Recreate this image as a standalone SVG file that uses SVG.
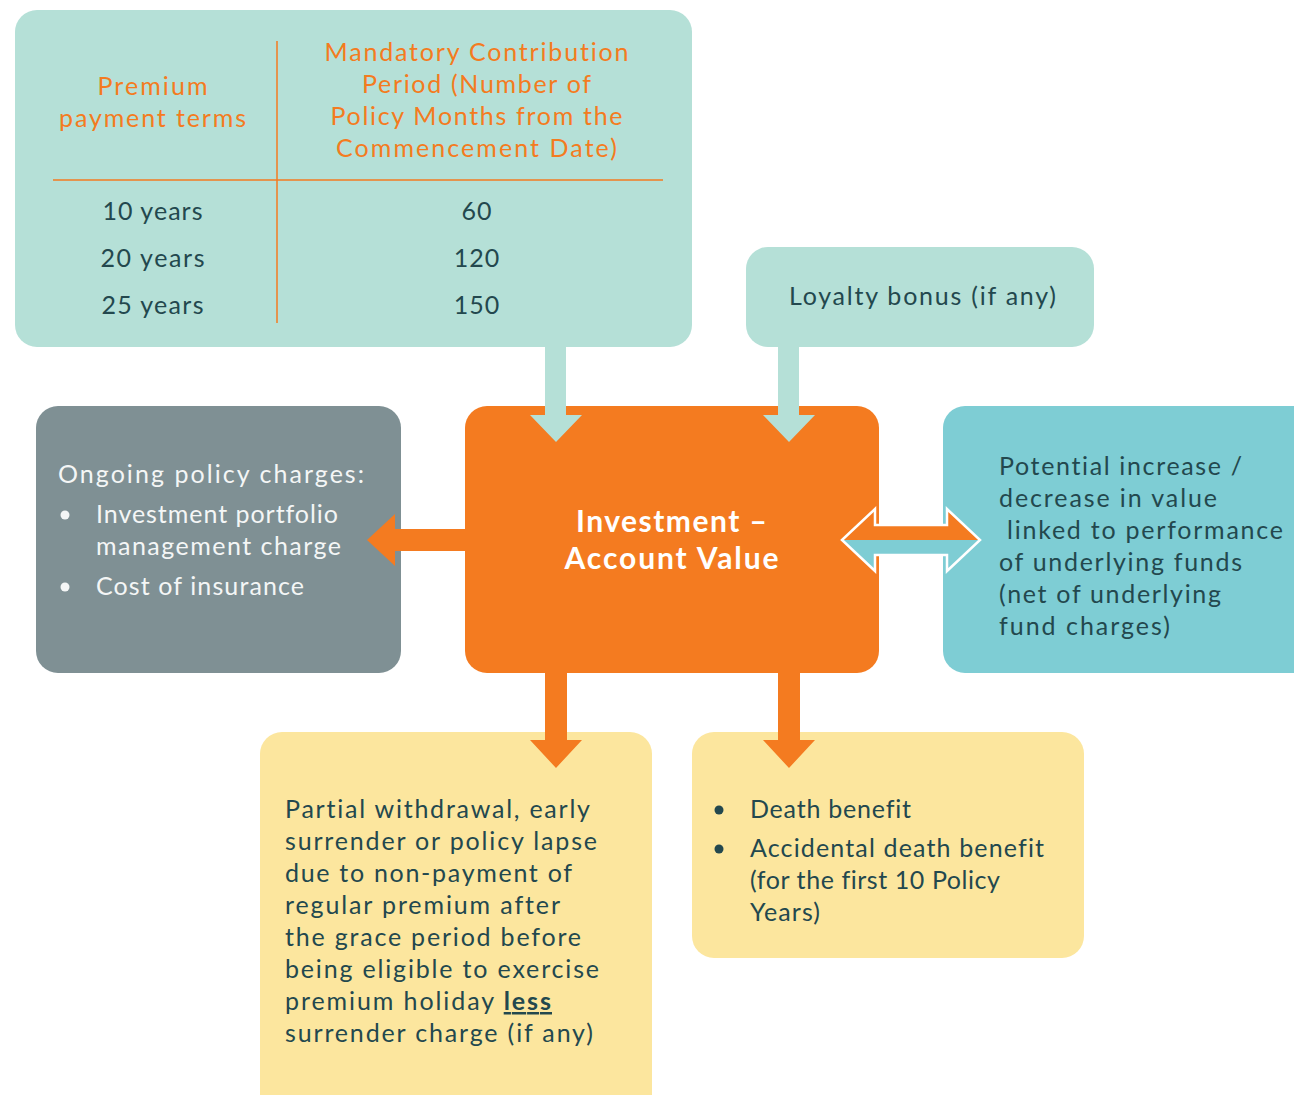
<svg xmlns="http://www.w3.org/2000/svg" width="1294" height="1095" viewBox="0 0 1294 1095">
<style>
.t{font-family:Lato,"Open Sans","Liberation Sans",sans-serif;font-size:25px;letter-spacing:1px;fill:#23484e}
.o{fill:#f47b20}
.w{fill:#f4f6f6}
.c{text-anchor:middle}
.b{font-weight:bold}
.h{font-size:30px;fill:#ffffff;font-weight:bold}
.grid{stroke:#f47b20;stroke-width:1.5;fill:none}
</style>
<defs>
<clipPath id="topHalf"><rect x="830" y="490" width="170" height="50"/></clipPath>
</defs>
<rect width="1294" height="1095" fill="#ffffff"/>

<g id="table-box">
<rect x="15" y="10" width="677" height="337" rx="22" fill="#b5e0d7"/>
<line class="grid" x1="277" y1="41" x2="277" y2="323"/>
<line class="grid" x1="53" y1="180" x2="663" y2="180"/>
<text class="t o c" x="153" y="95" textLength="111" lengthAdjust="spacing">Premium</text>
<text class="t o c" x="153" y="127" textLength="188" lengthAdjust="spacing">payment terms</text>
<text class="t o c" x="477" y="61" textLength="305" lengthAdjust="spacing">Mandatory Contribution</text>
<text class="t o c" x="477" y="93" textLength="230" lengthAdjust="spacing">Period (Number of</text>
<text class="t o c" x="477" y="125" textLength="293" lengthAdjust="spacing">Policy Months from the</text>
<text class="t o c" x="477" y="157" textLength="282" lengthAdjust="spacing">Commencement Date)</text>
<text class="t c" x="153" y="220" textLength="101" lengthAdjust="spacing">10 years</text>
<text class="t c" x="153" y="267" textLength="105" lengthAdjust="spacing">20 years</text>
<text class="t c" x="153" y="314" textLength="103" lengthAdjust="spacing">25 years</text>
<text class="t c" x="477" y="220">60</text>
<text class="t c" x="477" y="267">120</text>
<text class="t c" x="477" y="314">150</text>
</g>

<g id="loyalty">
<rect x="746" y="247" width="348" height="100" rx="22" fill="#b5e0d7"/>
<text class="t c" x="923" y="305" textLength="268" lengthAdjust="spacing">Loyalty bonus (if any)</text>
</g>

<g id="charges">
<rect x="36" y="406" width="365" height="267" rx="22" fill="#7f9094"/>
<text class="t w" x="58" y="483" textLength="307" lengthAdjust="spacing">Ongoing policy charges:</text>
<circle cx="65" cy="515" r="4.5" fill="#f4f6f6"/>
<text class="t w" x="96" y="523" textLength="243" lengthAdjust="spacing">Investment portfolio</text>
<text class="t w" x="96" y="555" textLength="246" lengthAdjust="spacing">management charge</text>
<circle cx="65" cy="587" r="4.5" fill="#f4f6f6"/>
<text class="t w" x="96" y="595" textLength="209" lengthAdjust="spacing">Cost of insurance</text>
</g>

<g id="performance">
<rect x="943" y="406" width="380" height="267" rx="22" fill="#7ecdd4"/>
<text class="t" x="999" y="475" textLength="244" lengthAdjust="spacing">Potential increase /</text>
<text class="t" x="999" y="507" textLength="219" lengthAdjust="spacing">decrease in value</text>
<text class="t" x="1007" y="539" textLength="277" lengthAdjust="spacing">linked to performance</text>
<text class="t" x="999" y="571" textLength="244" lengthAdjust="spacing">of underlying funds</text>
<text class="t" x="999" y="603" textLength="223" lengthAdjust="spacing">(net of underlying</text>
<text class="t" x="999" y="635" textLength="172" lengthAdjust="spacing">fund charges)</text>
</g>

<g id="withdrawal">
<rect x="260" y="732" width="392" height="390" rx="22" fill="#fce69e"/>
<text class="t" x="285" y="818" textLength="306" lengthAdjust="spacing">Partial withdrawal, early</text>
<text class="t" x="285" y="850" textLength="313" lengthAdjust="spacing">surrender or policy lapse</text>
<text class="t" x="285" y="882" textLength="288" lengthAdjust="spacing">due to non-payment of</text>
<text class="t" x="285" y="914" textLength="276" lengthAdjust="spacing">regular premium after</text>
<text class="t" x="285" y="946" textLength="297" lengthAdjust="spacing">the grace period before</text>
<text class="t" x="285" y="978" textLength="315" lengthAdjust="spacing">being eligible to exercise</text>
<text class="t" x="285" y="1010" textLength="267" lengthAdjust="spacing">premium holiday <tspan class="b" text-decoration="underline">less</tspan></text>
<text class="t" x="285" y="1042" textLength="309" lengthAdjust="spacing">surrender charge (if any)</text>
</g>

<g id="death">
<rect x="692" y="732" width="392" height="226" rx="22" fill="#fce69e"/>
<circle cx="719" cy="810" r="4.5" fill="#23484e"/>
<text class="t" x="750" y="818" textLength="162" lengthAdjust="spacing">Death benefit</text>
<circle cx="719" cy="849" r="4.5" fill="#23484e"/>
<text class="t" x="750" y="857" textLength="295" lengthAdjust="spacing">Accidental death benefit</text>
<text class="t" x="750" y="889" textLength="251" lengthAdjust="spacing">(for the first 10 Policy</text>
<text class="t" x="750" y="921" textLength="71" lengthAdjust="spacing">Years)</text>
</g>

<g id="account">
<rect x="465" y="406" width="414" height="267" rx="22" fill="#f47b20"/>
<text class="t c h" x="672" y="532" textLength="192" lengthAdjust="spacing">Investment –</text>
<text class="t c h" x="672" y="569" textLength="215" lengthAdjust="spacing">Account Value</text>
</g>

<g id="connectors">
<polygon points="545,340 566,340 566,415 582,415 556,442 530,415 545,415" fill="#b5e0d7"/>
<polygon points="778,340 799,340 799,415 815,415 789,442 763,415 778,415" fill="#b5e0d7"/>
<polygon points="470,529 395,529 395,514 367,540 395,566 395,551 470,551" fill="#f47b20"/>
<polygon points="545,668 567,668 567,740 582,740 556,768 530,740 545,740" fill="#f47b20"/>
<polygon points="778,668 800,668 800,740 815,740 789,768 763,740 778,740" fill="#f47b20"/>
<polygon points="842,540 875,509 875,525 947,525 947,509 980,540 947,571 947,555 875,555 875,571" fill="#7ecdd4"/>
<polygon points="842,540 875,509 875,525 947,525 947,509 980,540 947,571 947,555 875,555 875,571" fill="#f47b20" clip-path="url(#topHalf)"/>
<polygon points="842,540 875,509 875,525 947,525 947,509 980,540 947,571 947,555 875,555 875,571" fill="none" stroke="#ffffff" stroke-width="2.5" stroke-linejoin="miter"/>
</g>
</svg>
